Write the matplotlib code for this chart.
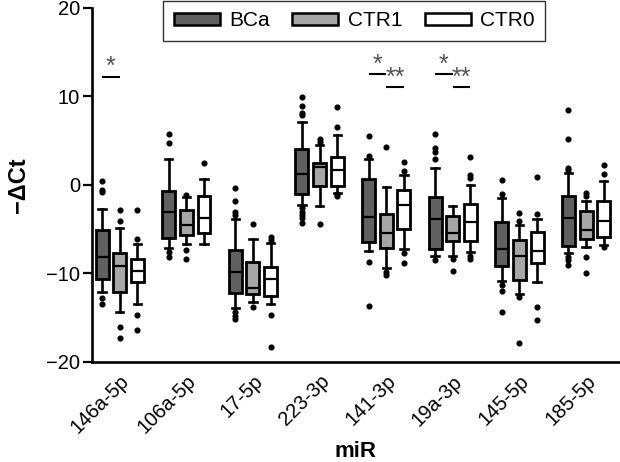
import matplotlib
matplotlib.use("Agg")
import matplotlib.pyplot as plt
from matplotlib.patches import Patch

plt.rcParams['font.family'] = ['Liberation Sans', 'DejaVu Sans']

groups = ['146a-5p', '106a-5p', '17-5p', '223-3p', '141-3p', '19a-3p', '145-5p', '185-5p']
series = ['BCa', 'CTR1', 'CTR0']

bca_whishi = [-2.75, 2.97, -3.88, 7.08, 2.9, 1.88, -1.51, 1.32]
bca_q3 = [-5.08, -0.68, -7.31, 4.07, 0.64, -1.32, -4.14, -1.24]
bca_med = [-8.14, -3.09, -9.87, 1.21, -3.65, -3.88, -7.23, -3.77]
bca_q1 = [-10.66, -5.99, -12.24, -1.05, -6.4, -7.19, -9.15, -6.85]
bca_whislo = [-12.1, -7.08, -13.9, -2.22, -7.46, -8.02, -10.81, -7.72]
bca_fliers = [
    [0.45, -0.56, -0.79, -12.8, -13.5],
    [5.73, 4.71, -7.53, -8.17],
    [-0.38, -1.81, -3.01, -3.35, -14.3, -14.8, -15.2],
    [9.98, 8.96, 8.17, 7.87, -2.64, -3.01, -3.39, -3.77, -4.26],
    [5.54, 3.28, -8.7, -13.67],
    [5.8, 4.22, 3.77, 2.9, -8.47],
    [0.56, -1.05, -11.3, -11.94, -14.35],
    [8.47, 5.24, 1.92, 1.69, -8.1, -8.47, -9.04],
]

ctr1_whishi = [-4.82, -1.32, -6.1, 4.48, -0.19, -2.37, -4.56, -1.77]
ctr1_q3 = [-7.65, -2.82, -8.7, 2.45, -3.28, -3.5, -6.21, -2.9]
ctr1_med = [-9.15, -4.56, -11.67, 2.07, -5.39, -5.39, -8.06, -5.08]
ctr1_q1 = [-12.09, -5.61, -12.35, -0.11, -7.12, -6.29, -10.73, -6.14]
ctr1_whislo = [-14.3, -6.67, -13.18, -2.33, -9.42, -8.02, -12.32, -7.04]
ctr1_fliers = [
    [-2.86, -4.07, -16.1, -17.25],
    [-1.1, -7.34, -8.32],
    [-4.41, -13.75],
    [5.2, 4.9, -4.44],
    [4.33, -9.8, -10.2],
    [-8.32, -9.72],
    [-3.13, -4.07, -12.69, -17.89],
    [-0.94, -1.24, -8.1, -9.98],
]

ctr0_whishi = [-6.67, 0.64, -6.52, 5.65, 1.13, 0.0, -3.84, 0.41]
ctr0_q3 = [-8.36, -1.21, -9.23, 3.12, -0.56, -2.15, -5.31, -1.85]
ctr0_med = [-9.68, -3.69, -10.58, 1.69, -2.26, -4.22, -7.46, -4.03]
ctr0_q1 = [-11.0, -5.46, -12.5, -0.11, -5.01, -6.37, -8.78, -5.91]
ctr0_whislo = [-13.45, -6.67, -13.48, -0.87, -7.27, -7.61, -11.0, -6.78]
ctr0_fliers = [
    [-2.82, -6.06, -14.7, -16.4],
    [2.52],
    [-5.84, -6.21, -14.7, -18.3],
    [8.78, 6.52, -1.0, -1.2],
    [2.56, 1.62, -7.72, -8.85],
    [3.13, 1.13, 0.75, -7.99, -8.36],
    [0.9, -3.31, -13.82, -15.25],
    [2.26, 1.21, -7.0],
]

# significance annotations: (group index, series i, series j, label, level)
sig_pairs = [(0, 0, 1, '*', 12.24), (4, 0, 1, '*', 12.5), (4, 1, 2, '**', 11.1),
             (5, 0, 1, '*', 12.5), (5, 1, 2, '**', 11.1)]

y_ticks = [-20, -10, 0, 10, 20]

colors = ['#606060', '#a6a6a6', '#ffffff']
offsets = [-0.265, 0.0, 0.265]
box_w = 0.195

all_stats = [
    (bca_whislo, bca_q1, bca_med, bca_q3, bca_whishi, bca_fliers),
    (ctr1_whislo, ctr1_q1, ctr1_med, ctr1_q3, ctr1_whishi, ctr1_fliers),
    (ctr0_whislo, ctr0_q1, ctr0_med, ctr0_q3, ctr0_whishi, ctr0_fliers),
]

fig = plt.figure(figsize=(6.2, 4.62), dpi=100)
ax = fig.add_axes([0.148, 0.2165, 0.852, 0.7662])

for s, (wlo, q1, med, q3, whi, fl) in enumerate(all_stats):
    stats = []
    for g in range(len(groups)):
        stats.append(dict(med=med[g], q1=q1[g], q3=q3[g], whislo=wlo[g], whishi=whi[g],
                          fliers=fl[g]))
    pos = [g + offsets[s] for g in range(len(groups))]
    ax.bxp(stats, positions=pos, widths=box_w, capwidths=0.11, patch_artist=True,
           manage_ticks=False,
           boxprops=dict(facecolor=colors[s], edgecolor='black', linewidth=2.0),
           medianprops=dict(color='black', linewidth=1.6),
           whiskerprops=dict(color='black', linewidth=1.9),
           capprops=dict(color='black', linewidth=1.9),
           flierprops=dict(marker='o', markerfacecolor='black', markeredgecolor='black',
                           markersize=3.4, linestyle='none'))

for g, i, j, lab, lvl in sig_pairs:
    x0 = g + offsets[i]
    x1 = g + offsets[j]
    ax.plot([x0, x1], [lvl, lvl], color='black', lw=1.5, solid_capstyle='butt')
    ax.text((x0 + x1) / 2, lvl - 0.3, lab, ha='center', va='bottom', fontsize=18,
            color='#555555')

ax.set_xlim(-0.42, 7.51)
ax.set_ylim(-20, 20)
ax.set_yticks(y_ticks)
ax.set_yticklabels([str(t).replace('-', '\u2212') for t in y_ticks], fontsize=14.5)
ax.set_xticks(range(len(groups)))
ax.set_xticklabels(groups, rotation=45, ha='right', rotation_mode='anchor', fontsize=14.5)
ax.tick_params(axis='x', length=0, pad=7)
ax.tick_params(axis='y', length=6.5, width=1.6, pad=2)
for sp in ['top', 'right']:
    ax.spines[sp].set_visible(False)
for sp in ['left', 'bottom']:
    ax.spines[sp].set_linewidth(1.9)

ax.set_ylabel('\u2212\u0394Ct', fontsize=17, fontweight='bold')
ax.yaxis.set_label_coords(-0.117, 0.5)
ax.set_xlabel('miR', fontsize=16, fontweight='bold')
ax.xaxis.set_label_coords(0.5, -0.222)

handles = [Patch(facecolor=c, edgecolor='black', linewidth=1.8) for c in colors]
leg = ax.legend(handles, series, loc='upper center', bbox_to_anchor=(0.497, 1.02), ncol=3,
                fontsize=15, frameon=True, fancybox=False, handlelength=2.2,
                handleheight=0.45, columnspacing=1.1, handletextpad=0.45,
                borderpad=0.5, borderaxespad=0)
leg.get_frame().set_edgecolor('black')
leg.get_frame().set_linewidth(1.0)

fig.savefig('out.png', dpi=100)
